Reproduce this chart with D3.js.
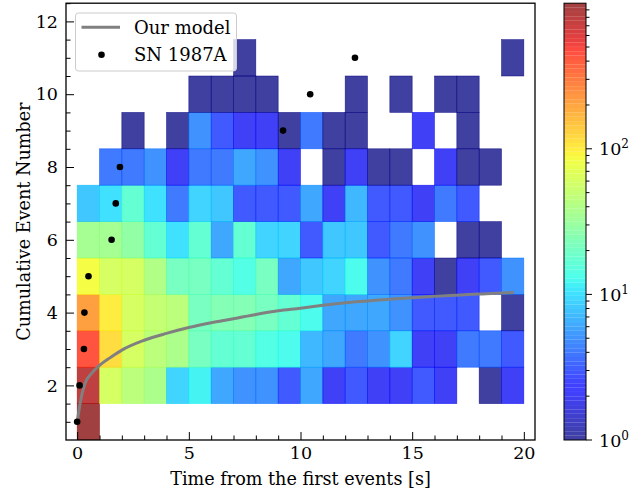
<!DOCTYPE html>
<html><head><meta charset="utf-8">
<script src="https://cdn.jsdelivr.net/npm/d3@7"></script>
<style>body{margin:0;background:#fff}svg{display:block}text{font-family:"DejaVu Serif",serif;fill:#000}</style>
</head><body><svg id="c" width="630" height="494"></svg>
<script>
// ---------------- data ----------------
const timeBins = [0,1,2,3,4,5,6,7,8,9,10,11,12,13,14,15,16,17,18,19];
const binWidth = 1;
const eventNumbers = [1,2,3,4,5,6,7,8,9,10,11];
const counts = [
  [1000,0,0,0,0,0,0,0,0,0,0,0,0,0,0,0,0,0,0,0],
  [780,60,45,38,9,12,6,5,5,3,6,2,3,2,2,3,2,0,1,2],
  [437,117,60,45,38,21,17,17,14,13,7,6,4,5,9,2,2,4,4,3],
  [211,100,60,50,45,21,24,24,21,17,13,6,6,6,5,3,3,3,0,1],
  [85,60,60,40,21,21,17,14,21,6,8,9,13,5,4,2,1,2,3,5],
  [35,35,28,17,10,17,6,17,9,9,3,8,8,3,4,5,0,1,1,0],
  [8,10,17,10,4,9,8,3,3,3,6,2,7,3,3,2,4,3,0,0],
  [0,4,4,5,2,4,4,6,5,2,0,1,2,1,1,0,2,1,1,0],
  [0,0,1,0,1,5,3,2,2,1,4,1,1,0,0,2,0,1,0,0],
  [0,0,0,0,0,1,1,1,1,0,0,0,1,0,1,0,1,1,0,0],
  [0,0,0,0,0,0,0,1,0,0,0,0,0,0,0,0,0,0,0,1]
];
const modelTime   = [0,0.06,0.13,0.35,0.65,1,1.5,2,3,4,5,6,7,8,9,10,11,12,13,14,15,16,17,18,19,19.55];
const modelEvents = [1,1.23,1.5,2.05,2.33,2.55,2.77,2.97,3.24,3.43,3.59,3.72,3.83,3.95,4.05,4.12,4.2,4.27,4.32,4.37,4.41,4.45,4.48,4.51,4.54,4.55];
const snTime   = [0,0.107,0.303,0.324,0.507,1.541,1.728,1.915,9.219,10.433,12.439];
const snEvents = [1,2,3,4,5,6,7,8,9,10,11];
const xTicks = [0,5,10,15,20];
const xMinorTicks = [1,2,3,4,6,7,8,9,11,12,13,14,16,17,18,19];
const yTicks = [2,4,6,8,10,12];
const yMinorTicks = [1,1.5,2.5,3,3.5,4.5,5,5.5,6.5,7,7.5,8.5,9,9.5,10.5,11,11.5,12.5];
const cbarTicks = [1,10,100];
const cbarExp = ["0","1","2"];
const cbarMinor = [2,3,4,5,6,7,8,9,20,30,40,50,60,70,80,90,200,300,400,500,600,700,800,900];
const countMax = 1000;

// ---------------- colormap (jet) ----------------
const jetR=[[0,0],[0.35,0],[0.66,1],[0.89,1],[1,0.5]];
const jetG=[[0,0],[0.125,0],[0.375,1],[0.64,1],[0.91,0],[1,0]];
const jetB=[[0,0.5],[0.11,1],[0.34,1],[0.65,0],[1,0]];
function seg(p,t){for(let i=1;i<p.length;i++){if(t<=p[i][0]){const [x0,y0]=p[i-1],[x1,y1]=p[i];return y0+(y1-y0)*(t-x0)/(x1-x0);}}return p[p.length-1][1];}
function jet(t){t=Math.max(0,Math.min(1,t));return d3.rgb(255*seg(jetR,t),255*seg(jetG,t),255*seg(jetB,t)).formatHex();}
const norm = d3.scaleLog().domain([1,countMax]).range([0,1]).clamp(true);
const ALPHA = 0.75;

// ---------------- layout ----------------
const svg = d3.select("#c");
const L=66, R=535, T=3.2, B=440;
const x = d3.scaleLinear().domain([-0.5,20.5]).range([L,R]);
const y = d3.scaleLinear().domain([0.5,12.5]).range([B,T]);

svg.append("defs").append("clipPath").attr("id","clip").append("rect")
  .attr("x",L).attr("y",T).attr("width",R-L).attr("height",B-T);

const cells=[];
counts.forEach((row,i)=>row.forEach((v,j)=>{ if(v>0) cells.push({t:timeBins[j],n:eventNumbers[i],v}); }));
const plot = svg.append("g").attr("clip-path","url(#clip)");
plot.selectAll("rect.cell").data(cells).join("rect").attr("class","cell")
  .attr("x",d=>x(d.t)).attr("width",d=>x(d.t+binWidth)-x(d.t))
  .attr("y",d=>y(d.n+0.5)).attr("height",d=>y(d.n-0.5)-y(d.n+0.5))
  .attr("fill",d=>jet(norm(d.v))).attr("fill-opacity",ALPHA)
  .attr("stroke",d=>jet(norm(d.v))).attr("stroke-opacity",ALPHA).attr("stroke-width",0.6);

const line = d3.line().x((d,i)=>x(modelTime[i])).y((d,i)=>y(modelEvents[i])).curve(d3.curveMonotoneX);
plot.append("path").datum(modelTime).attr("d",line).attr("fill","none")
  .attr("stroke","#808080").attr("stroke-width",3);

plot.selectAll("circle.sn").data(snTime).join("circle").attr("class","sn")
  .attr("cx",d=>x(d)).attr("cy",(d,i)=>y(snEvents[i])).attr("r",3.3).attr("fill","#000");

// axes
const fsTick = 17.5, fsLab = 17.6, fsLeg = 18;
const gx = svg.append("g").attr("transform",`translate(0,${B})`)
  .call(d3.axisBottom(x).tickValues(xTicks).tickSize(-8).tickPadding(7).tickFormat(d3.format("d")));
const gxm = svg.append("g").attr("transform",`translate(0,${B})`)
  .call(d3.axisBottom(x).tickValues(xMinorTicks).tickSize(-4.5).tickFormat(""));
const gy = svg.append("g").attr("transform",`translate(${L},0)`)
  .call(d3.axisLeft(y).tickValues(yTicks).tickSize(-8).tickPadding(8).tickFormat(d3.format("d")));
const gym = svg.append("g").attr("transform",`translate(${L},0)`)
  .call(d3.axisLeft(y).tickValues(yMinorTicks).tickSize(-4.5).tickFormat(""));
[gx,gxm,gy,gym].forEach(g=>{g.select(".domain").remove();g.selectAll("line").attr("stroke","#000").attr("stroke-width",1);
  g.selectAll("text").attr("font-size",fsTick).attr("font-family","DejaVu Serif").attr("fill","#000");});
svg.append("rect").attr("x",L).attr("y",T).attr("width",R-L).attr("height",B-T)
  .attr("fill","none").attr("stroke","#000").attr("stroke-width",1.3);

svg.append("text").attr("x",(L+R)/2).attr("y",485).attr("text-anchor","middle").attr("font-size",fsLab)
  .text("Time from the first events [s]");
svg.append("text").attr("transform",`translate(30,${(T+B)/2}) rotate(-90)`).attr("text-anchor","middle").attr("font-size",fsLab)
  .text("Cumulative Event Number");

// legend
const lg = svg.append("g");
lg.append("rect").attr("x",75.5).attr("y",13).attr("width",161).attr("height",58).attr("rx",3)
  .attr("fill","#fff").attr("fill-opacity",0.8).attr("stroke","#cccccc").attr("stroke-width",1);
lg.append("line").attr("x1",81.5).attr("x2",120).attr("y1",27.3).attr("y2",27.3).attr("stroke","#808080").attr("stroke-width",3);
lg.append("text").attr("x",134).attr("y",34).attr("font-size",fsLeg).text("Our model");
lg.append("circle").attr("cx",101.5).attr("cy",54.7).attr("r",3.3).attr("fill","#000");
lg.append("text").attr("x",134).attr("y",61.3).attr("font-size",fsLeg).text("SN 1987A");

// colorbar
const CL=564, CR=586;
const yc = d3.scaleLog().domain([1,countMax]).range([B,T]);
const nb = 100;
const bands = d3.range(nb);
const cb = svg.append("g");
cb.selectAll("rect").data(bands).join("rect")
  .attr("x",CL).attr("width",CR-CL)
  .attr("y",d=>B-(d+1)*(B-T)/nb).attr("height",(B-T)/nb)
  .attr("fill",d=>jet((d+0.5)/nb)).attr("fill-opacity",ALPHA);
cb.append("rect").attr("x",CL).attr("y",T).attr("width",CR-CL).attr("height",B-T)
  .attr("fill","none").attr("stroke","#000").attr("stroke-width",1);
cb.selectAll("line.maj").data(cbarTicks).join("line").attr("class","maj")
  .attr("x1",CR).attr("x2",CR+6).attr("y1",d=>yc(d)).attr("y2",d=>yc(d)).attr("stroke","#000");
cb.selectAll("line.min").data(cbarMinor).join("line").attr("class","min")
  .attr("x1",CR).attr("x2",CR+3.5).attr("y1",d=>yc(d)).attr("y2",d=>yc(d)).attr("stroke","#000");
const cbt = cb.selectAll("text.lab").data(cbarTicks).join("text").attr("class","lab")
  .attr("x",599).attr("y",d=>yc(d)+6.5).attr("font-size",fsTick);
cbt.append("tspan").text("10");
cbt.append("tspan").attr("dy",-7).attr("font-size",12).text((d,i)=>cbarExp[i]);
</script></body></html>
